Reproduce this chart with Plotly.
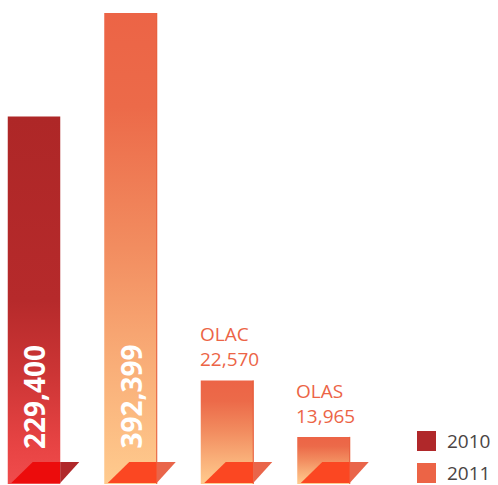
import plotly.graph_objects as go

# data
categories = ["2010", "2011", "OLAC", "OLAS"]
counts = [229400, 392399, 22570, 13965]
count_labels = ["229,400", "392,399", "22,570", "13,965"]
# drawn bar heights (index, tallest bar = 100); the picture is not to scale
bar_heights = [78, 100, 22, 10]
legend_years = ["2010", "2011"]

DARK_RED = "#B0282A"
ORANGE = "#EC6446"
FONT = "Open Sans"

# pixel -> axis unit helpers (plot area fills the page)
PX_X = 96.5
PX_Y = 4.71
BAR_W = 52.5 / PX_X

fig = go.Figure()

red_scale = [[0, "#F04C4C"], [0.1, "#E84444"], [0.3, "#CC3535"], [0.5, "#B62A2B"], [1, "#AE2727"]]
orange_scale = [[0, "#FFCB8E"], [0.25, "#F9AE78"], [0.5, "#F28D60"], [0.8, "#EC6A49"], [1, "#EC6446"]]

shapes = []
annotations = []
for i, (cat, h, lab) in enumerate(zip(categories, bar_heights, count_labels)):
    left, right = i - BAR_W / 2, i + BAR_W / 2
    scale = red_scale if i == 0 else orange_scale
    fig.add_trace(go.Scatter(
        x=[left, right, right, left, left], y=[0, 0, h, h, 0],
        mode="lines", fill="toself", line=dict(width=0),
        fillgradient=dict(type="vertical", colorscale=scale),
        hoverinfo="text", text=f"{cat}: {lab}", showlegend=False,
    ))
    if i > 0:
        fig.add_trace(go.Scatter(
            x=[right, right], y=[0, h], mode="lines",
            line=dict(color="#E5532F", width=1), hoverinfo="skip", showlegend=False,
        ))

    # floor plate
    y0, y1 = 1 / PX_Y, 22 / PX_Y
    inside = "#EC0C0C" if i == 0 else "#FB4722"
    outside = DARK_RED if i == 0 else "#E9654A"
    shapes.append(dict(
        type="path", xref="x", yref="y", line=dict(width=0), fillcolor=inside,
        path=f"M{left + 3.5 / PX_X},{y0} L{right},{y0} L{right},{y1} L{left + 25 / PX_X},{y1} Z",
    ))
    shapes.append(dict(
        type="path", xref="x", yref="y", line=dict(width=0), fillcolor=outside,
        path=f"M{right},{y0} L{right + 19 / PX_X},{y1} L{right},{y1} Z",
    ))

    if i < 2:
        annotations.append(dict(
            x=i, y=33 / PX_Y, xref="x", yref="y", text=f"<b>{lab}</b>",
            textangle=-90, showarrow=False, xanchor="center", yanchor="bottom",
            font=dict(family=FONT, size=28, color="white"),
        ))
    else:
        annotations.append(dict(
            x=left, y=h, xref="x", yref="y", text=f"{cat}<br>{lab}", showarrow=False,
            xanchor="left", yanchor="bottom", align="left", yshift=6, xshift=-3,
            font=dict(family=FONT, size=19, color=ORANGE),
        ))

# legend drawn by hand
for k, (yr, col) in enumerate(zip(legend_years, [DARK_RED, ORANGE])):
    top = 431 + 32 * k
    shapes.append(dict(
        type="rect", xref="paper", yref="paper", line=dict(width=0), fillcolor=col,
        x0=417 / 498, x1=436 / 498, y0=1 - (top + 20) / 485, y1=1 - top / 485,
    ))
    annotations.append(dict(
        x=445 / 498, y=1 - (top + 10) / 485, xref="paper", yref="paper", text=yr,
        showarrow=False, xanchor="left", yanchor="middle",
        font=dict(family=FONT, size=19, color="#4A4443"),
    ))

fig.update_layout(
    width=498, height=485,
    margin=dict(l=0, r=0, t=0, b=0, pad=0),
    paper_bgcolor="white", plot_bgcolor="white",
    xaxis=dict(range=[-34 / PX_X, (498 - 34) / PX_X], visible=False, fixedrange=True),
    yaxis=dict(range=[-1 / PX_Y, 484 / PX_Y], visible=False, fixedrange=True),
    shapes=shapes, annotations=annotations, showlegend=False,
)

fig.write_html("out.html", config=dict(displayModeBar=False),
               post_script="document.body.style.margin='0';")
